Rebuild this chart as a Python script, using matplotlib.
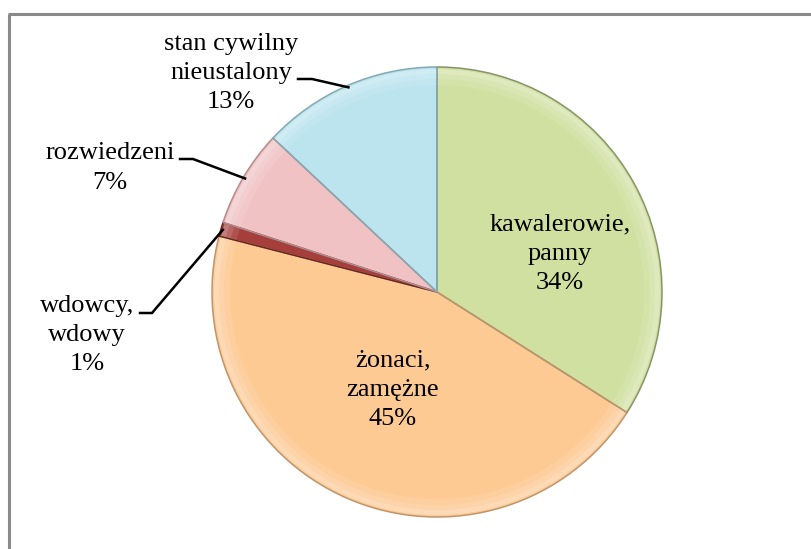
import numpy as np
import matplotlib.pyplot as plt
from matplotlib.patches import Wedge

# data
labels = ['kawalerowie,\npanny', 'żonaci,\nzamężne', 'wdowcy,\nwdowy',
          'rozwiedzeni', 'stan cywilny\nnieustalony']
shares = [34, 45, 1, 7, 13]
colours = ['#d0e0a0', '#fdca94', '#a63f3c', '#f1c2c4', '#bbe4ef']
edges = ['#87946a', '#bf966b', '#6a2523', '#b48c8e', '#84a9b3']

W, H = 811, 549
fig = plt.figure(figsize=(W / 100, H / 100), dpi=100)
ax = fig.add_axes([0, 0, 1, 1])

plt.rcParams['font.family'] = ['Liberation Serif', 'DejaVu Serif']
fs = 19
ls = 1.42

# frame of the chart area (only top and left are visible)
ax.plot([8, W], [H - 14, H - 14], color='#8a8a8a', lw=2.2, solid_capstyle='butt')
ax.plot([8.5, 8.5], [0, H - 14], color='#8a8a8a', lw=2.2, solid_capstyle='butt')

cx, cy, r = 437, H - 292, 225
wedges, _ = ax.pie(shares, colors=colours, startangle=90, counterclock=False,
                   center=(cx, cy), radius=r, frame=True,
                   wedgeprops=dict(edgecolor='none', linewidth=0))
ax.set_xlim(0, W)
ax.set_ylim(0, H)
ax.axis('off')

# soft bevel near the rim and darker outline
for w, ec in zip(wedges, edges):
    t1, t2 = w.theta1, w.theta2
    for k, a in [(16, 0.10), (10, 0.12), (5, 0.15)]:
        ax.add_patch(Wedge((cx, cy), r - 2, t1, t2, width=k, facecolor='white',
                           alpha=a, edgecolor='none'))
    ax.add_patch(Wedge((cx, cy), r, t1, t2, facecolor='none', edgecolor=ec, lw=1.1))

mid = [np.deg2rad((w.theta1 + w.theta2) / 2) for w in wedges]

# labels inside the two big slices
ax.text(560, H - 254, labels[0] + '\n%d%%' % shares[0], ha='center', va='center',
        fontsize=fs, linespacing=ls)
ax.text(393, H - 390, labels[1] + '\n%d%%' % shares[1], ha='center', va='center',
        fontsize=fs, linespacing=ls)

# outside labels with leader lines: (text x, text y, line start x, line start y, hook)
outside = {2: (87, H - 335, 140, H - 313, 12),
           3: (110, H - 168, 180, H - 159, 13),
           4: (231, H - 73, 298, H - 79, 14)}
for i, (tx, ty, lx, ly, hk) in outside.items():
    ax.text(tx, ty, labels[i] + '\n%d%%' % shares[i], ha='center', va='center',
            fontsize=fs, linespacing=ls)
    ex = cx + (r - 2) * np.cos(mid[i])
    ey = cy + (r - 2) * np.sin(mid[i])
    ax.plot([lx, lx + hk, ex], [ly, ly, ey], color='black', lw=1.8)

fig.savefig('out.png', dpi=100)
